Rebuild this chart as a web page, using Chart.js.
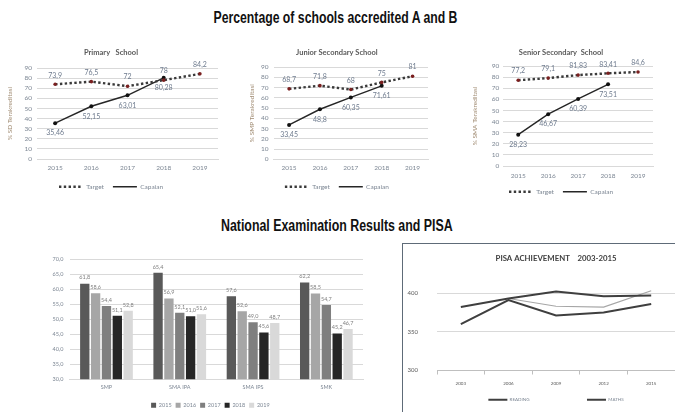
<!DOCTYPE html>
<html><head><meta charset="utf-8">
<script src="https://cdn.jsdelivr.net/npm/chart.js@4.4.1/dist/chart.umd.min.js"></script>
<style>
html,body{margin:0;padding:0;background:#fff;}
#wrap{position:relative;width:675px;height:412px;overflow:hidden;background:#fff;}
.box{position:absolute;}
.ttl{position:absolute;white-space:nowrap;font-family:'Liberation Sans',Arial,sans-serif;font-weight:bold;font-size:16px;line-height:16px;color:#111;transform-origin:center center;}
#pisaFrame{position:absolute;left:402px;top:243px;width:300px;height:200px;border:1.5px solid #5e6b78;box-sizing:border-box;}
</style></head>
<body>
<div id="wrap">
  <div class="ttl" id="t1" style="top:10px">Percentage of schools accredited A and B</div>
  <div class="ttl" id="t2" style="top:218px">National Examination Results and PISA</div>
  <div class="box" style="left:0;top:40px;width:228px;height:160px"><canvas id="c1"></canvas></div>
  <div class="box" style="left:238px;top:40px;width:200px;height:160px"><canvas id="c2"></canvas></div>
  <div class="box" style="left:458px;top:40px;width:212px;height:165px"><canvas id="c3"></canvas></div>
  <div class="box" style="left:28px;top:248px;width:345px;height:170px"><canvas id="c4"></canvas></div>
  <div id="pisaFrame"></div>
  <div class="box" style="left:385px;top:245px;width:290px;height:167px"><canvas id="c5"></canvas></div>
</div>
<script>
// ---- data ----
const years = ['2015', '2016', '2017', '2018', '2019'];
const sdTarget = [73.9, 76.5, 72, 78, 84.2];
const sdCapaian = [35.46, 52.15, 63.01, 80.28, null];
const smpTarget = [68.7, 71.8, 68, 75, 81];
const smpCapaian = [33.45, 48.8, 60.35, 71.61, null];
const smaTarget = [77.2, 79.1, 81.83, 83.41, 84.6];
const smaCapaian = [28.23, 46.67, 60.39, 73.51, null];

const examCategories = ['SMP', 'SMA IPA', 'SMA IPS', 'SMK'];
const examYears = ['2015', '2016', '2017', '2018', '2019'];
const exam2015 = [61.8, 65.4, 57.6, 62.2];
const exam2016 = [58.6, 56.9, 52.6, 58.5];
const exam2017 = [54.4, 52.1, 49.0, 54.7];
const exam2018 = [51.1, 51.0, 45.6, 45.2];
const exam2019 = [52.8, 51.6, 48.7, 46.7];

const pisaYears = ['2003', '2006', '2009', '2012', '2015'];
const pisaReading = [382, 393, 402, 396, 397];
const pisaMaths = [360, 391, 371, 375, 386];
const pisaScience = [null, 393, 383, 382, 403];
const pisaTicks = [300, 350, 400];

// ---- page titles (condensed to the reference width) ----
function fitTitle(id, cx, w) {
  const el = document.getElementById(id);
  const ow = el.offsetWidth;
  el.style.left = (cx - ow / 2) + 'px';
  el.style.transform = 'scaleX(' + (w / ow) + ')';
}
fitTitle('t1', 335, 244);
fitTitle('t2', 337, 232);

// ---- styles ----
const F = "Lato, 'Open Sans', Arial, sans-serif";
const TICK = '#7d8794';
const GRID = '#d9d9d9';
const barColors = ['#595959', '#a6a6a6', '#7f7f7f', '#262626', '#d9d9d9'];

const fmtComma = v => String(v).replace('.', ',');
const fmt1 = v => Number(v).toFixed(1).replace('.', ',');

const valueLabels = {
  id: 'valueLabels',
  afterDatasetsDraw(chart, args, opts) {
    if (!opts || !opts.enabled) return;
    const ctx = chart.ctx;
    chart.data.datasets.forEach((ds, i) => {
      const meta = chart.getDatasetMeta(i);
      if (meta.hidden || ds.labelOffset === undefined) return;
      meta.data.forEach((el, j) => {
        const v = ds.data[j];
        if (v == null) return;
        ctx.save();
        ctx.font = opts.font;
        ctx.fillStyle = opts.color;
        ctx.textAlign = 'center';
        ctx.textBaseline = 'middle';
        ctx.fillText(opts.fmt(v), el.x, el.y + ds.labelOffset);
        ctx.restore();
      });
    });
  }
};
Chart.register(valueLabels);

const spacerItem = () => ({ text: '', strokeStyle: 'rgba(0,0,0,0)', fillStyle: 'rgba(0,0,0,0)', lineWidth: 0, pointStyle: 'line', hidden: false });

const lineLegendLabels = chart => {
  const items = Chart.defaults.plugins.legend.labels.generateLabels(chart);
  items.forEach(it => {
    const ds = chart.data.datasets[it.datasetIndex];
    it.strokeStyle = ds.borderColor;
    it.lineDash = ds.borderDash || [];
    it.lineWidth = ds.borderWidth;
  });
  return items;
};

function accChart(id, title, yTitle, target, capaian, o) {
  return new Chart(document.getElementById(id), {
    type: 'line',
    data: {
      labels: years,
      datasets: [
        { label: 'Target', data: target, borderColor: '#3a3a3a', borderWidth: 2.4, borderDash: [2.4, 2.4],
          pointRadius: 1.8, pointBorderWidth: 0, pointBackgroundColor: '#7a1f1f', labelOffset: -9 },
        { label: 'Capaian', data: capaian, borderColor: '#262626', borderWidth: 1.4,
          pointRadius: 2, pointBorderWidth: 0, pointBackgroundColor: '#111', labelOffset: 10 }
      ]
    },
    options: {
      responsive: true, maintainAspectRatio: false, animation: false,
      layout: { padding: { left: o.left, right: o.right, top: 0, bottom: 0 } },
      plugins: {
        title: { display: true, text: title, color: '#595959', font: { size: 7.5, family: F }, padding: { top: 8, bottom: o.titleGap } },
        legend: { position: 'bottom', labels: { usePointStyle: true, pointStyle: 'line', pointStyleWidth: 24, boxHeight: 6,
          font: { size: 6.5, family: F }, color: TICK, padding: 9, generateLabels: lineLegendLabels } },
        tooltip: { enabled: false },
        valueLabels: { enabled: true, font: '7px ' + F, color: '#6e7b8e', fmt: fmtComma }
      },
      scales: {
        x: { offset: true, grid: { display: false, drawTicks: false }, border: { color: GRID },
             afterFit: s => { s.height += o.xFit; },
             ticks: { font: { size: 6.5, family: F }, color: TICK, padding: o.xPad } },
        y: { min: 0, max: 90, ticks: { stepSize: 10, autoSkip: false, font: { size: 6.5, family: F }, color: TICK, padding: o.tickPad },
             grid: { color: GRID, drawTicks: false }, border: { display: false },
             title: { display: true, text: yTitle, color: '#a08b72', font: { size: 6.5, family: F }, padding: { top: 2, bottom: o.yTitleGap } } }
      }
    }
  });
}

accChart('c1', 'Primary   School', '% SD Terakreditasi', sdTarget, sdCapaian,
  { left: 4, right: 10, titleGap: 11, tickPad: 5, yTitleGap: 5.7, xPad: 5, xFit: -2.3 });
accChart('c2', 'Junior Secondary School', '% SMP Terakreditasi', smpTarget, smpCapaian,
  { left: 7.8, right: 10, titleGap: 10, tickPad: 5, yTitleGap: 0.5, xPad: 4.5, xFit: -1.6 });
accChart('c3', 'Senior Secondary  School', '% SMA Terakreditasi', smaTarget, smaCapaian,
  { left: 11, right: 17, titleGap: 9, tickPad: 4, yTitleGap: 8.9, xPad: 6, xFit: -6.3 });

const examSeries = [exam2015, exam2016, exam2017, exam2018, exam2019];
const barLegendLabels = chart => [spacerItem()].concat(Chart.defaults.plugins.legend.labels.generateLabels(chart));
new Chart(document.getElementById('c4'), {
  type: 'bar',
  data: {
    labels: examCategories,
    datasets: examYears.map((y, i) => ({ label: y, data: examSeries[i], backgroundColor: barColors[i], borderWidth: 0,
      categoryPercentage: 0.74, barPercentage: 0.86, labelOffset: -6 }))
  },
  options: {
    responsive: true, maintainAspectRatio: false, animation: false,
    layout: { padding: { left: 18, right: 10, top: 11, bottom: 0 } },
    plugins: {
      legend: { position: 'bottom', labels: { boxWidth: 5, boxHeight: 5, font: { size: 5.5, family: F }, color: TICK, padding: 4,
        generateLabels: barLegendLabels } },
      tooltip: { enabled: false },
      valueLabels: { enabled: true, font: '5.5px ' + F, color: '#7f7f7f', fmt: fmt1 }
    },
    scales: {
      x: { grid: { display: false, drawTicks: false }, border: { color: GRID }, afterFit: s => { s.height += 3.2; },
           ticks: { font: { size: 5.5, family: F }, color: TICK, padding: 4.7 } },
      y: { min: 30, max: 70,
           ticks: { stepSize: 5, autoSkip: false, callback: v => fmt1(v), font: { size: 5.5, family: F }, color: TICK, padding: 6.5 },
           grid: { color: GRID, drawTicks: false }, border: { display: false } }
    }
  }
});

const pisaLegendLabels = chart => {
  const items = Chart.defaults.plugins.legend.labels.generateLabels(chart).filter(it => it.text !== 'SCIENCE');
  items.forEach(it => { const ds = chart.data.datasets[it.datasetIndex]; it.strokeStyle = ds.borderColor; it.lineWidth = ds.borderWidth; });
  return [items[0], spacerItem(), spacerItem(), items[1]];
};

new Chart(document.getElementById('c5'), {
  type: 'line',
  data: {
    labels: pisaYears,
    datasets: [
      { label: 'READING', data: pisaReading, borderColor: '#3f3f3f', borderWidth: 2, pointRadius: 0 },
      { label: 'MATHS', data: pisaMaths, borderColor: '#3f3f3f', borderWidth: 2, pointRadius: 0 },
      { label: 'SCIENCE', data: pisaScience, borderColor: '#a6a6a6', borderWidth: 1.2, pointRadius: 0 }
    ]
  },
  options: {
    responsive: true, maintainAspectRatio: false, animation: false,
    layout: { padding: { left: 3.6, right: 0, top: 0, bottom: 0 } },
    plugins: {
      title: { display: true, fullSize: false, text: 'PISA ACHIEVEMENT    2003-2015', color: '#404040', font: { size: 7.8, family: F }, padding: { top: 8.3, bottom: 22.7 } },
      legend: { position: 'bottom', fullSize: false, labels: { usePointStyle: true, pointStyle: 'line', pointStyleWidth: 19, boxHeight: 4,
        font: { size: 4.5, family: F }, color: TICK, padding: 5, generateLabels: pisaLegendLabels } },
      tooltip: { enabled: false }
    },
    scales: {
      x: { offset: true, grid: { offset: true, drawOnChartArea: false, drawTicks: true, tickLength: 4, color: '#bfbfbf' }, border: { color: '#bfbfbf' },
           ticks: { font: { size: 4.5, family: F }, color: '#595959', padding: 6.3 } },
      y: { min: 300, max: 410, afterBuildTicks: ax => { ax.ticks = pisaTicks.map(v => ({ value: v })); },
           ticks: { font: { size: 6, family: F }, color: '#595959', padding: 19 },
           grid: { color: GRID, drawTicks: false }, border: { display: false } }
    }
  }
});
</script>
</body></html>
